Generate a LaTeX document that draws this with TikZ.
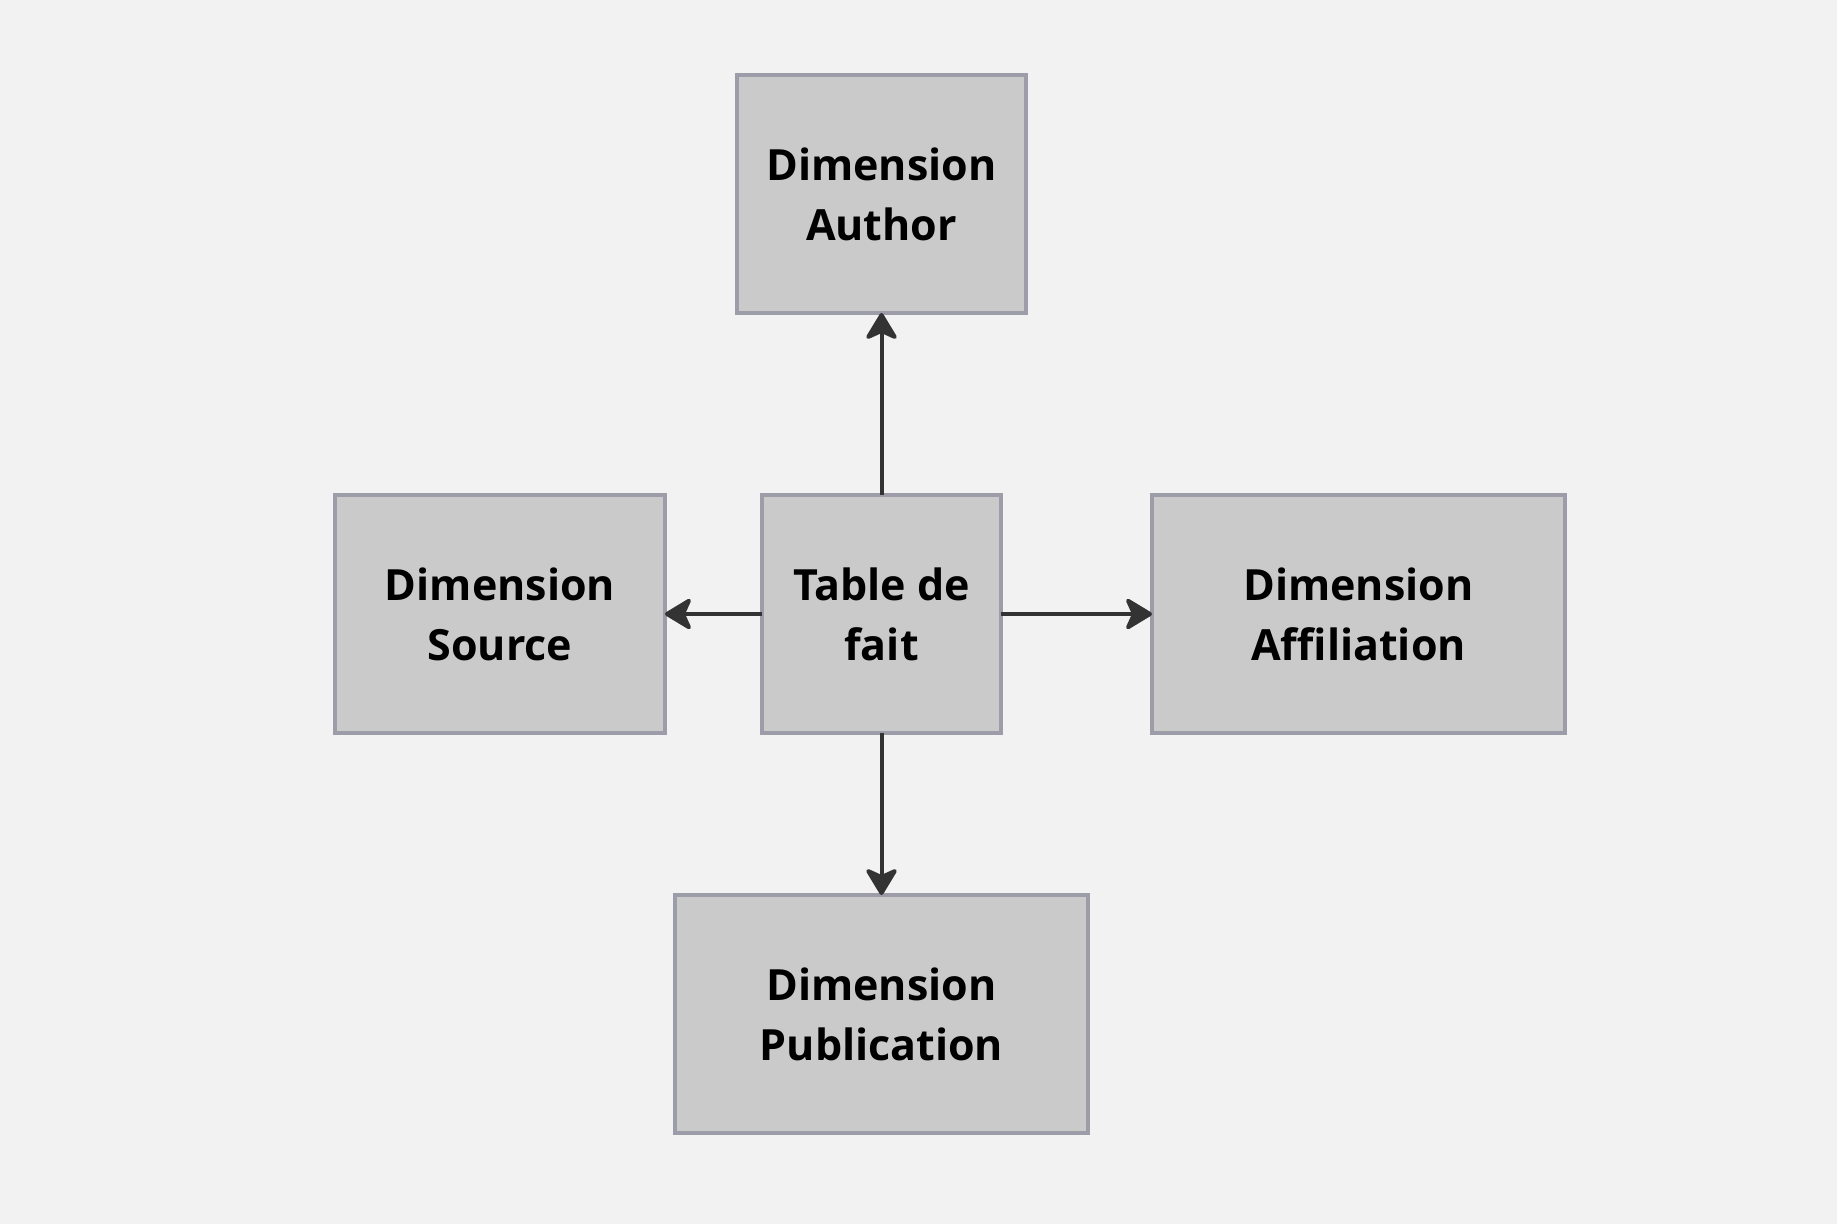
\documentclass[tikz,border=0pt]{standalone}
\usepackage{fontspec}
\setmainfont{Open Sans}
\usetikzlibrary{arrows.meta}
\definecolor{bgc}{HTML}{F2F2F2}
\definecolor{boxfill}{HTML}{CACACA}
\definecolor{boxline}{HTML}{9C9DA8}
\definecolor{arrowc}{HTML}{333333}
\begin{document}
\begin{tikzpicture}[x=1pt,y=-1pt,
  dimbox/.style={draw=boxline, fill=boxfill, line width=3.5pt, rectangle,
    minimum height=238pt, inner sep=0pt, outer sep=0pt, align=center,
    text=black, font=\fontsize{43}{60}\selectfont\bfseries},
  link/.style={draw=arrowc, line width=4pt,
    -{Stealth[length=30pt, width=36pt, inset=8pt, round]}}]
\useasboundingbox[fill=bgc] (0,0) rectangle (1837,1224);
\node[dimbox, minimum width=289pt] (author) at (881.5,194) {Dimension\\Author};
\node[dimbox, minimum width=330pt] (source) at (500,614) {Dimension\\Source};
\node[dimbox, minimum width=239pt] (fact) at (881.5,614) {Table de\\fait};
\node[dimbox, minimum width=413pt] (affil) at (1358.5,614) {Dimension\\Affiliation};
\node[dimbox, minimum width=413pt] (pub) at (881.5,1014) {Dimension\\Publication};
\draw[link] (fact.north) -- (author.south);
\draw[link] (fact.west) -- (source.east);
\draw[link] (fact.east) -- (affil.west);
\draw[link] (fact.south) -- (pub.north);
\end{tikzpicture}
\end{document}
